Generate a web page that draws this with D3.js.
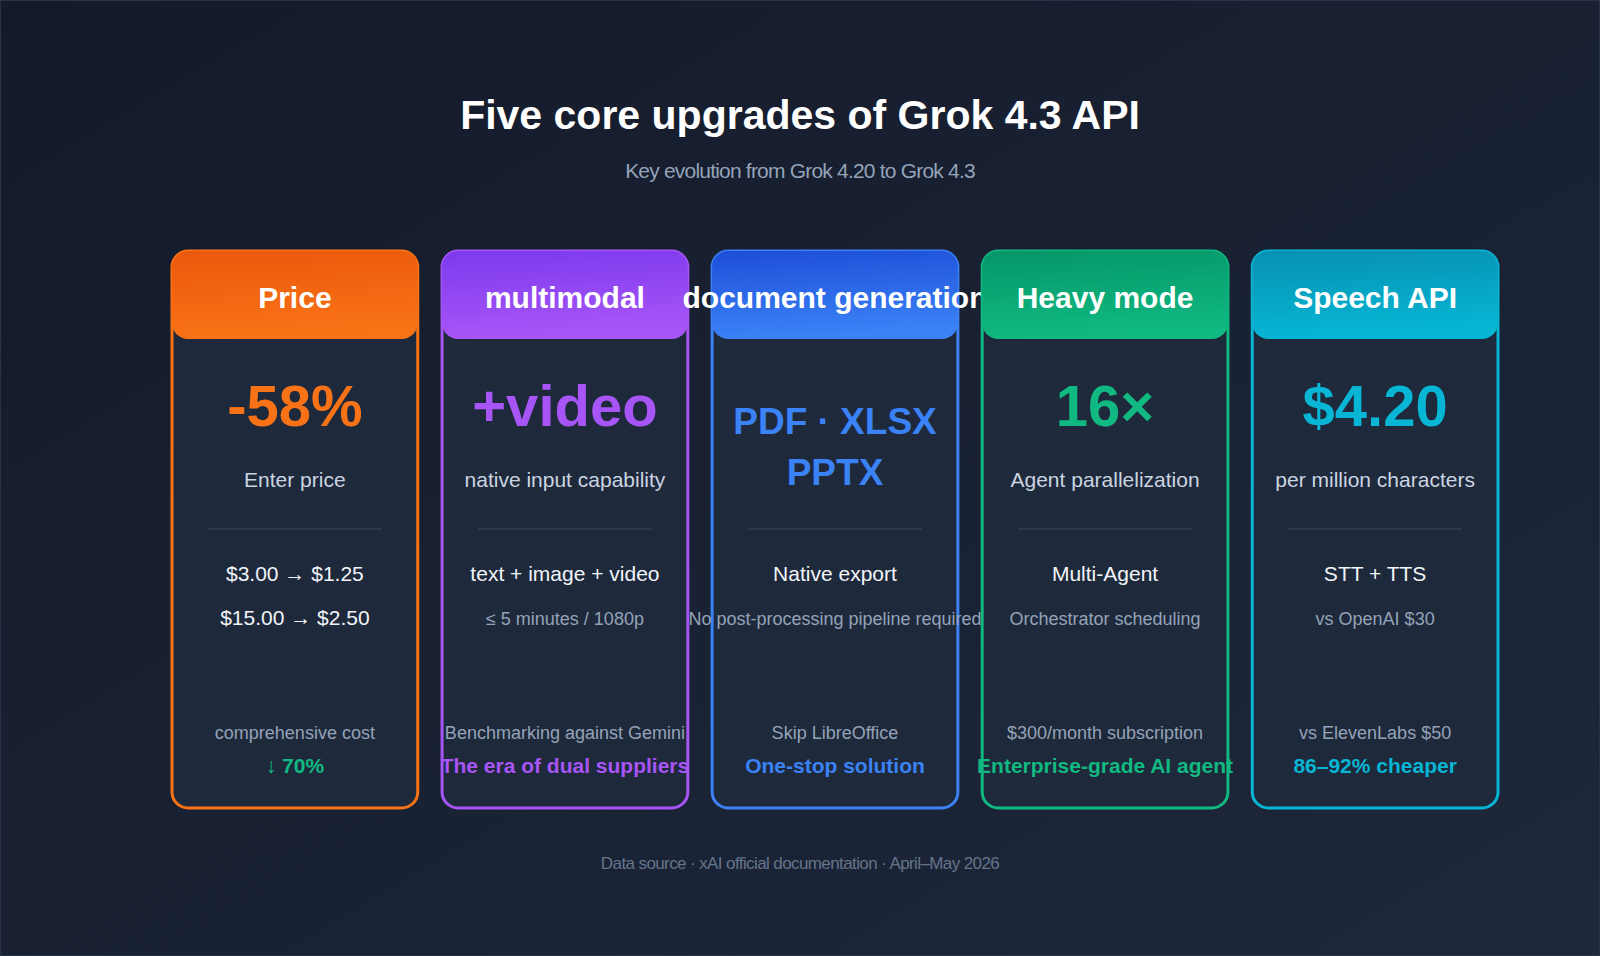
<!DOCTYPE html>
<html>
<head>
<script src="https://d3js.org/d3.v7.min.js"></script>
<style>
  body { margin: 0; background: #141b2b; }
  text { font-family: "Liberation Sans", Arial, sans-serif; }
</style>
</head>
<body>
<script>
var width = 1600, height = 956;

var titles = ["Price", "multimodal", "document generation", "Heavy mode", "Speech API"];
var bigValues = [["-58%"], ["+video"], ["PDF · XLSX", "PPTX"], ["16×"], ["$4.20"]];
var captions = ["Enter price", "native input capability", "", "Agent parallelization", "per million characters"];
var detailA = ["$3.00 → $1.25", "text + image + video", "Native export", "Multi-Agent", "STT + TTS"];
var detailB = ["$15.00 → $2.50", "≤ 5 minutes / 1080p", "No post-processing pipeline required", "Orchestrator scheduling", "vs OpenAI $30"];
var footNotes = ["comprehensive cost", "Benchmarking against Gemini", "Skip LibreOffice", "$300/month subscription", "vs ElevenLabs $50"];
var highlights = ["↓ 70%", "The era of dual suppliers", "One-stop solution", "Enterprise-grade AI agent", "86–92% cheaper"];
var colors = ["#f97316", "#a855f7", "#3b82f6", "#10b981", "#06b6d4"];
var darkColors = ["#ea580c", "#7c3aed", "#1d4ed8", "#059669", "#0891b2"];

var svg = d3.select("body").append("svg").attr("width", width).attr("height", height);
var defs = svg.append("defs");

var bg = defs.append("linearGradient").attr("id", "bg").attr("x1", 0).attr("y1", 0).attr("x2", 1).attr("y2", 1);
bg.append("stop").attr("offset", 0).attr("stop-color", "#131a2a");
bg.append("stop").attr("offset", 1).attr("stop-color", "#1e283b");
svg.append("rect").attr("width", width).attr("height", height).attr("fill", "url(#bg)")
  .attr("stroke", "#2a3346").attr("stroke-width", 2);

svg.append("text").attr("x", width / 2).attr("y", 129).attr("text-anchor", "middle")
  .attr("fill", "#fff").attr("font-size", 41).attr("font-weight", "bold").text("Five core upgrades of Grok 4.3 API");
svg.append("text").attr("x", width / 2).attr("y", 178).attr("text-anchor", "middle")
  .attr("fill", "#94a3b8").attr("font-size", 21).attr("letter-spacing", -0.8)
  .text("Key evolution from Grok 4.20 to Grok 4.3");
svg.append("text").attr("x", width / 2).attr("y", 869).attr("text-anchor", "middle")
  .attr("fill", "#64748b").attr("font-size", 17).attr("letter-spacing", -0.6)
  .text("Data source · xAI official documentation · April–May 2026");

var x = d3.scaleBand().domain(d3.range(titles.length)).range([172, 1498]).paddingInner(0.09);
var cw = x.bandwidth(), cardTop = 251, cardBottom = 808, headH = 88, r = 16;

colors.forEach(function(c, i) {
  var g = defs.append("linearGradient").attr("id", "h" + i).attr("x1", 0).attr("y1", 0).attr("x2", 0.15).attr("y2", 1);
  g.append("stop").attr("offset", 0).attr("stop-color", darkColors[i]);
  g.append("stop").attr("offset", 1).attr("stop-color", c);
});

titles.forEach(function(t, i) {
  var g = svg.append("g").attr("transform", "translate(" + x(i) + "," + cardTop + ")");
  var cx = cw / 2, c = colors[i];
  g.append("rect").attr("width", cw).attr("height", cardBottom - cardTop).attr("rx", r)
    .attr("fill", "#1e293b").attr("stroke", c).attr("stroke-width", 3);
  g.append("path").attr("fill", "url(#h" + i + ")")
    .attr("d", "M0," + r + "a" + r + "," + r + " 0 0 1 " + r + ",-" + r + "H" + (cw - r) +
      "a" + r + "," + r + " 0 0 1 " + r + "," + r + "V" + (headH - r) +
      "a" + r + "," + r + " 0 0 1 -" + r + "," + r + "H" + r + "a" + r + "," + r + " 0 0 1 -" + r + ",-" + r + "Z");
  g.append("text").attr("x", cx).attr("y", 57).attr("text-anchor", "middle").attr("fill", "#fff")
    .attr("font-size", 30).attr("font-weight", "bold").text(t);

  if (bigValues[i].length === 1) {
    g.append("text").attr("x", cx).attr("y", 175).attr("text-anchor", "middle").attr("fill", c)
      .attr("font-size", 58).attr("font-weight", "bold").text(bigValues[i][0]);
  } else {
    bigValues[i].forEach(function(v, k) {
      g.append("text").attr("x", cx).attr("y", 183 + k * 51).attr("text-anchor", "middle").attr("fill", c)
        .attr("font-size", 37).attr("font-weight", "bold").text(v);
    });
  }
  g.append("text").attr("x", cx).attr("y", 236).attr("text-anchor", "middle").attr("fill", "#cbd5e1")
    .attr("font-size", 21).text(captions[i]);
  g.append("line").attr("x1", 36).attr("x2", cw - 36).attr("y1", 278).attr("y2", 278)
    .attr("stroke", "#334155").attr("stroke-width", 1.5);
  g.append("text").attr("x", cx).attr("y", 330).attr("text-anchor", "middle").attr("fill", "#f1f5f9")
    .attr("font-size", 21).text(detailA[i]);
  g.append("text").attr("x", cx).attr("y", 374).attr("text-anchor", "middle")
    .attr("fill", i === 0 ? "#f1f5f9" : "#94a3b8").attr("font-size", i === 0 ? 21 : 18).text(detailB[i]);
  g.append("text").attr("x", cx).attr("y", 488).attr("text-anchor", "middle").attr("fill", "#94a3b8")
    .attr("font-size", 18).text(footNotes[i]);
  g.append("text").attr("x", cx).attr("y", 522).attr("text-anchor", "middle").attr("fill", i === 0 ? "#10b981" : c)
    .attr("font-size", 21).attr("font-weight", "bold").text(highlights[i]);
});
</script>
</body>
</html>
